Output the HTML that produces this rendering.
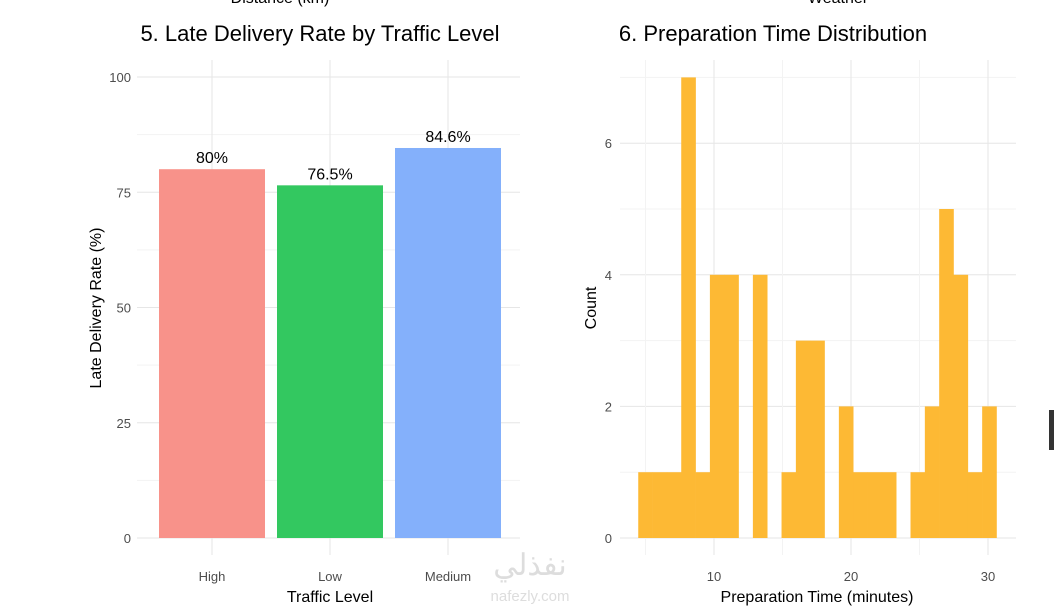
<!DOCTYPE html>
<html><head><meta charset="utf-8"><style>
body{margin:0;background:#fff;width:1054px;height:607px;overflow:hidden;font-family:"Liberation Sans",sans-serif}
svg text{font-family:"Liberation Sans","Noto Sans CJK SC",sans-serif}
</style></head><body>
<svg id="c" width="1054" height="607">
<text x="280" y="3" font-size="16" text-anchor="middle" fill="#000">Distance (km)</text>
<text x="838" y="3" font-size="16" text-anchor="middle" fill="#000">Weather</text>
<text x="320" y="41" font-size="22" text-anchor="middle" fill="#000">5. Late Delivery Rate by Traffic Level</text>
<text x="773" y="41" font-size="22" text-anchor="middle" fill="#000">6. Preparation Time Distribution</text>
<text x="212" y="581" font-size="13" text-anchor="middle" fill="#4d4d4d">High</text>
<g id="g5"></g>
<g id="g6"></g>
<text x="330" y="602" font-size="16" text-anchor="middle">Traffic Level</text>
<text transform="translate(101,308) rotate(-90)" font-size="16" text-anchor="middle">Late Delivery Rate (%)</text>
<text x="817" y="602" font-size="16" text-anchor="middle">Preparation Time (minutes)</text>
<text transform="translate(596,308) rotate(-90)" font-size="16" text-anchor="middle">Count</text>
<text x="530" y="575" font-size="30" text-anchor="middle" fill="#ddd">نفذلي</text>
<text x="530" y="601" font-size="15" text-anchor="middle" fill="#ddd">nafezly.com</text>
<rect x="1049" y="410" width="5" height="40" fill="#333"/>
</svg>
<script>
const categories=["High","Low","Medium"];
const rates=[80,76.5,84.6];
const rateLabels=["80%","76.5%","84.6%"];
const barColors=["#f8928a","#33c860","#84b0fb"];
const yTicks5=[0,25,50,75,100];
const binStart=4.47, binWidth=1.046;
const counts=[1,1,1,7,1,4,4,0,4,0,1,3,3,0,2,1,1,1,0,1,2,5,4,1,2];
const yTicks6=[0,2,4,6];
const xTicks6=[10,20,30];
const NS="http://www.w3.org/2000/svg";
function mk(p,t,a){const e=document.createElementNS(NS,t);for(const k in a)e.setAttribute(k,a[k]);p.appendChild(e);return e;}
const g5=document.getElementById('g5');
const y5=v=>538-v*4.61;
const x5=i=>212+i*118;
for(let v=0;v<=100;v+=12.5){const l=mk(g5,'line',{x1:137,x2:520,y1:y5(v),y2:y5(v),stroke:v%25?'#f3f3f3':'#e6e6e6','stroke-width':1});

}
categories.forEach((c,i)=>{const l=mk(g5,'line',{x1:x5(i),x2:x5(i),y1:60,y2:555,stroke:'#e6e6e6'});

});
yTicks5.forEach(v=>{const t=mk(g5,'text',{x:131,y:y5(v)+5,'font-size':13,'text-anchor':'end',fill:'#4d4d4d'});t.textContent=v;

});
categories.forEach((c,i)=>{
const r=mk(g5,'rect',{x:x5(i)-53,y:y5(rates[i]),width:106,height:rates[i]*4.61,fill:barColors[i]});


const t=mk(g5,'text',{x:x5(i),y:y5(rates[i])-6,'font-size':16,'text-anchor':'middle',fill:'#000'});t.textContent=rateLabels[i];


if(i>0){const k=mk(g5,'text',{x:x5(i),y:581,'font-size':13,'text-anchor':'middle',fill:'#4d4d4d'});k.textContent=c;

}
});
const g6=document.getElementById('g6');
const x6=v=>714+(v-10)*13.7;
const y6=v=>538-v*65.8;
for(let v=0;v<=7;v++){const l=mk(g6,'line',{x1:620,x2:1016,y1:y6(v),y2:y6(v),stroke:v%2?'#f3f3f3':'#e6e6e6'});

}
for(let v=5;v<=30;v+=5){const l=mk(g6,'line',{x1:x6(v),x2:x6(v),y1:60,y2:555,stroke:v%10?'#f3f3f3':'#e6e6e6'});

}
yTicks6.forEach(v=>{const t=mk(g6,'text',{x:612,y:y6(v)+5,'font-size':13,'text-anchor':'end',fill:'#4d4d4d'});t.textContent=v;

});
xTicks6.forEach(v=>{const t=mk(g6,'text',{x:x6(v),y:581,'font-size':13,'text-anchor':'middle',fill:'#4d4d4d'});t.textContent=v;

});
counts.forEach((c,i)=>{if(!c)return;const a=binStart+i*binWidth;
const r=mk(g6,'rect',{x:x6(a),y:y6(c),width:x6(a+binWidth)-x6(a)+0.3,height:c*65.8,fill:'#fdb934'});

});
</script>
</body></html>
